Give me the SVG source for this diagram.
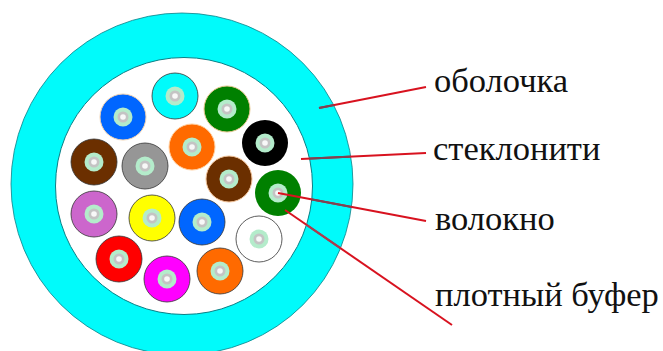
<svg xmlns="http://www.w3.org/2000/svg" width="663" height="351" viewBox="0 0 663 351">
<style>
.t{font-family:"Liberation Serif","Times New Roman",serif;font-size:34.5px;fill:#111}
.b{stroke:#333;stroke-width:0.8}
.h{fill:#b4eccb}
.g{fill:#c4c4c4}
.w{fill:#f8f8f8}
.l{stroke:#d8121f;stroke-width:2;fill:none}
.d{stroke:#7a4455;stroke-width:2;fill:none}
.e{stroke:#a83e50;stroke-width:2;fill:none}
</style>
<defs>
<g id="core"><circle class="h" r="9.5"/><circle class="g" r="5.5"/><circle class="w" r="2.8"/></g>
<clipPath id="ring"><path clip-rule="evenodd" d="M11 184a171 171 0 1 0 342 0a171 171 0 1 0-342 0ZM55.500 186a128.500 128.500 0 1 0 257 0a128.500 128.500 0 1 0-257 0Z"/></clipPath>
</defs>
<rect width="663" height="351" fill="#fff"/>
<g id="cable">
<circle cx="182" cy="184" r="171" fill="#00fbfb" stroke="#0a7f86" stroke-width="0.8"/>
<circle cx="184" cy="186" r="128.500" fill="#fff" stroke="#0a7f86" stroke-width="1"/>
</g>
<g id="f-cyan"><circle class="b" cx="175" cy="96" r="23" fill="#00fbfb"/><use href="#core" x="175" y="96"/></g>
<g id="f-blue"><circle cx="123" cy="117" r="23" fill="#0066ff" stroke="#f3d3b0"/><use href="#core" x="123" y="117"/></g>
<g id="f-green"><circle cx="227" cy="109" r="23" fill="#008000" stroke="#e8c890"/><use href="#core" x="227" y="109"/></g>
<g id="f-brown"><circle class="b" cx="94" cy="162" r="23" fill="#6b2f00"/><use href="#core" x="94" y="162"/></g>
<g id="f-gray"><circle class="b" cx="145" cy="166" r="23" fill="#969696"/><use href="#core" x="145" y="166"/></g>
<g id="f-orange"><circle cx="192" cy="147" r="23" fill="#ff6a00" stroke="#ffd0a0"/><use href="#core" x="192" y="147"/></g>
<g id="f-black"><circle cx="265" cy="143" r="23" fill="#000"/><use href="#core" x="265" y="143"/></g>
<g id="f-brown2"><circle cx="229" cy="179" r="23" fill="#6b2f00" stroke="#f3c49a"/><use href="#core" x="229" y="179"/></g>
<g id="f-green2"><circle cx="278" cy="193" r="23" fill="#008000"/><use href="#core" x="278" y="193"/></g>
<g id="f-purple"><circle class="b" cx="94" cy="214" r="23" fill="#cc66cc"/><use href="#core" x="94" y="214"/></g>
<g id="f-yellow"><circle class="b" cx="152" cy="218" r="23" fill="#ffff00"/><use href="#core" x="152" y="218"/></g>
<g id="f-blue2"><circle class="b" cx="202" cy="222" r="23" fill="#0066ff"/><use href="#core" x="202" y="222"/></g>
<g id="f-white"><circle class="b" cx="259" cy="239" r="23" fill="#fff"/><use href="#core" x="259" y="239"/></g>
<g id="f-red"><circle class="b" cx="119" cy="259" r="23" fill="#ff0000"/><use href="#core" x="119" y="259"/></g>
<g id="f-magenta"><circle class="b" cx="167" cy="279" r="23" fill="#ff00ff"/><use href="#core" x="167" y="279"/></g>
<g id="f-orange2"><circle class="b" cx="220" cy="271" r="23" fill="#ff6a00"/><use href="#core" x="220" y="271"/></g>
<g id="connectors">
<line class="l" x1="319" y1="108" x2="426" y2="87"/>
<line class="l" x1="301" y1="159" x2="426" y2="153"/>
<line class="l" x1="278" y1="193" x2="426" y2="221"/>
<line class="l" x1="285" y1="210" x2="452" y2="325"/>
<g clip-path="url(#ring)">
<line class="d" x1="319" y1="108" x2="426" y2="87"/>
<line class="d" x1="301" y1="159" x2="426" y2="153"/>
<line class="d" x1="278" y1="193" x2="426" y2="221"/>
<line class="e" x1="285" y1="210" x2="452" y2="325"/>
</g>
</g>
<g id="labels">
<text class="t" x="434" y="92">оболочка</text>
<text class="t" x="433" y="160">стеклонити</text>
<text class="t" x="435" y="230">волокно</text>
<text class="t" x="435" y="306">плотный буфер</text>
</g>
</svg>
